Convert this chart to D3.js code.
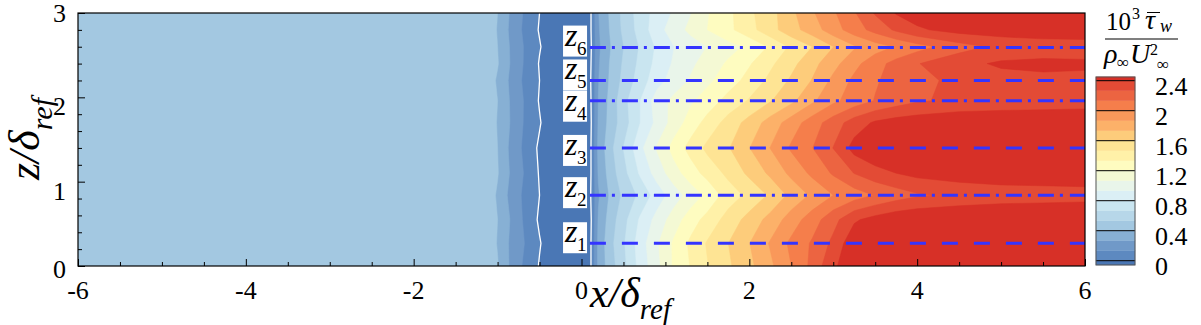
<!DOCTYPE html>
<html><head><meta charset="utf-8">
<script src="https://cdn.jsdelivr.net/npm/d3@7"></script>
<style>body{margin:0;background:#fff}svg{display:block}</style>
</head><body><svg id="c" width="1201" height="325"></svg>
<script>
// ---------- data ----------
const xNodes = [-6, -1.1, -1.0, -0.9, -0.75, -0.6, -0.5, -0.4, 0.0, 0.11,
  0.2, 0.35, 0.5, 0.7, 0.9, 1.1, 1.3, 1.5, 1.75, 2.0, 2.25, 2.5, 2.75, 3.0, 3.25, 3.5, 3.75, 4.0, 4.5, 5.0, 5.5, 6.0];
const zNodes = [0, 0.27, 0.55, 0.84, 1.1, 1.4, 1.7, 1.96, 2.2, 2.4, 2.6, 2.8, 3.0];
// separation region values (x = -6 ... 0.11), one row per zNode
const tauUpstream = [
  [0.47,0.47,0.41,0.30,0.16,0.06,-0.01,-0.05,-0.05,-0.01],
  [0.47,0.47,0.39,0.29,0.18,0.08,0.01,-0.05,-0.05,-0.01],
  [0.47,0.47,0.40,0.31,0.17,0.05,-0.02,-0.05,-0.05,-0.02],
  [0.47,0.46,0.38,0.28,0.15,0.07,0.00,-0.05,-0.05,0.00],
  [0.47,0.47,0.41,0.30,0.18,0.06,-0.01,-0.05,-0.05,-0.01],
  [0.47,0.47,0.40,0.29,0.16,0.04,-0.02,-0.05,-0.05,-0.01],
  [0.47,0.47,0.39,0.31,0.17,0.07,0.01,-0.05,-0.05,-0.02],
  [0.47,0.47,0.40,0.30,0.18,0.06,-0.01,-0.05,-0.05,-0.01],
  [0.47,0.46,0.38,0.29,0.16,0.05,0.00,-0.05,-0.05,0.00],
  [0.47,0.47,0.41,0.31,0.17,0.07,-0.01,-0.05,-0.05,-0.01],
  [0.47,0.47,0.40,0.30,0.18,0.06,0.01,-0.05,-0.05,-0.02],
  [0.47,0.47,0.39,0.29,0.16,0.05,-0.01,-0.05,-0.05,-0.01],
  [0.47,0.47,0.40,0.30,0.17,0.06,0.00,-0.05,-0.05,-0.01]
];
// recovery region values (x = 0.2 ... 6), one row per zNode
const tauRecovery = [
  [0.30,0.48,0.63,0.85,1.03,1.22,1.34,1.46,1.58,1.70,1.84,2.00,2.17,2.38,2.48,2.54,2.56,2.56,2.56,2.56,2.56,2.56],
  [0.30,0.50,0.65,0.87,1.05,1.22,1.36,1.48,1.60,1.73,1.88,2.03,2.15,2.30,2.50,2.55,2.56,2.56,2.56,2.56,2.56,2.56],
  [0.28,0.47,0.62,0.82,0.98,1.13,1.27,1.38,1.52,1.65,1.78,1.93,2.07,2.22,2.38,2.45,2.50,2.52,2.53,2.53,2.53,2.53],
  [0.25,0.43,0.56,0.70,0.86,1.00,1.12,1.23,1.40,1.50,1.62,1.77,1.89,2.00,2.07,2.14,2.20,2.25,2.30,2.33,2.34,2.35],
  [0.28,0.47,0.62,0.82,0.99,1.14,1.27,1.38,1.50,1.63,1.76,1.90,2.03,2.15,2.27,2.35,2.40,2.44,2.47,2.48,2.48,2.48],
  [0.30,0.50,0.67,0.90,1.08,1.25,1.38,1.50,1.59,1.73,1.87,2.02,2.13,2.27,2.45,2.52,2.55,2.56,2.56,2.56,2.56,2.56],
  [0.28,0.46,0.60,0.80,0.97,1.12,1.26,1.38,1.52,1.65,1.79,1.93,2.07,2.20,2.33,2.42,2.46,2.48,2.50,2.50,2.50,2.50],
  [0.27,0.45,0.62,0.80,1.00,1.10,1.18,1.26,1.38,1.48,1.59,1.70,1.84,1.97,2.06,2.14,2.20,2.25,2.30,2.32,2.33,2.34],
  [0.26,0.43,0.57,0.73,0.88,0.99,1.08,1.17,1.27,1.38,1.50,1.62,1.74,1.90,2.03,2.12,2.18,2.23,2.30,2.35,2.37,2.37],
  [0.25,0.42,0.55,0.70,0.84,0.95,1.04,1.12,1.22,1.32,1.44,1.56,1.69,1.82,1.96,2.08,2.18,2.26,2.36,2.42,2.43,2.42],
  [0.24,0.40,0.53,0.68,0.82,0.93,1.00,1.07,1.15,1.23,1.35,1.49,1.60,1.73,1.85,1.94,2.01,2.08,2.21,2.30,2.33,2.34],
  [0.25,0.42,0.56,0.72,0.88,1.00,1.10,1.20,1.30,1.42,1.55,1.68,1.80,1.94,2.07,2.18,2.29,2.38,2.45,2.47,2.48,2.48],
  [0.26,0.43,0.57,0.73,0.85,0.95,1.06,1.19,1.30,1.44,1.55,1.70,1.85,1.98,2.12,2.28,2.41,2.46,2.50,2.52,2.52,2.52]
];
const levels = [0, 0.1333, 0.2667, 0.4, 0.5333, 0.6667, 0.8, 0.9333, 1.0667, 1.2, 1.3333, 1.4667, 1.6, 1.7333, 1.8667, 2.0, 2.1333, 2.2667, 2.4];
const colorbarTicks = [0, 0.4, 0.8, 1.2, 1.6, 2, 2.4];
const xTicks = [-6, -4, -2, 0, 2, 4, 6];
const xMinorTicks = [-5.5,-5,-4.5,-3.5,-3,-2.5,-1.5,-1,-0.5,0.5,1,1.5,2.5,3,3.5,4.5,5,5.5];
const zTicks = [0, 1, 2, 3];
const zMinorTicks = [0.2,0.4,0.6,0.8,1.2,1.4,1.6,1.8,2.2,2.4,2.6,2.8];
const probeZ = [0.27, 0.84, 1.4, 1.96, 2.2, 2.59];
const probeNames = ["1","2","3","4","5","6"];
const probeXStart = 0.1;

// ---------- style ----------
const FF = "Liberation Serif";
const bandColors = ["#4a77b5","#5d89c0","#7099c8","#87b0d4","#a3c8e1","#b7d7e9","#c9e5f0","#dbeff5",
  "#e9f5ea","#f4f9d4","#fefcc0","#fff1a8","#fee494","#fdcc7b","#fcb169","#f9985a","#f57e4b","#ec6441","#e34b35","#d73027"];
const L = 78, R = 1085, T = 13, B = 266;
const svg = d3.select("#c");
const xScale = d3.scaleLinear([-6, 6], [L, R]);
const zScale = d3.scaleLinear([0, 3], [B, T]);
function txt(sel, x, y, size, italic, s) {
  return sel.append("text").attr("x", x).attr("y", y).attr("font-family", FF).attr("font-size", size)
    .attr("font-style", italic ? "italic" : "normal").attr("fill", "#000").text(s);
}

// ---------- contour field ----------
const nx = xNodes.length, nz = zNodes.length;
const values = [];
tauUpstream.forEach((row, j) => { values.push(...row, ...tauRecovery[j]); });
const thresholds = [-10, ...levels];
const contours = d3.contours().size([nx, nz]).thresholds(thresholds)(values);
function nodeMap(c, nodes) {
  let s = c - 0.5;
  s = Math.max(0, Math.min(nodes.length - 1, s));
  const i = Math.min(nodes.length - 2, Math.floor(s));
  return nodes[i] + (s - i) * (nodes[i + 1] - nodes[i]);
}
const proj = d3.geoTransform({ point(x, y) { this.stream.point(xScale(nodeMap(x, xNodes)), zScale(nodeMap(y, zNodes))); } });
const gpath = d3.geoPath(proj);
svg.append("clipPath").attr("id", "pc").append("rect").attr("x", L).attr("y", T).attr("width", R - L).attr("height", B - T);
const field = svg.append("g").attr("clip-path", "url(#pc)");
field.selectAll("path.band").data(contours).join("path").attr("class", "band")
  .attr("d", gpath).attr("fill", (d, i) => bandColors[i]).attr("stroke", (d, i) => bandColors[i]).attr("stroke-width", 0.5);

// zero-shear line (white)
let zd = "";
contours[1].coordinates.forEach(poly => poly.forEach(ring => {
  const pts = ring.map(([x, y]) => [nodeMap(x, xNodes), nodeMap(y, zNodes)]);
  let pen = false;
  for (let k = 1; k < pts.length; k++) {
    const a = pts[k - 1], b = pts[k], e = 1e-9;
    const onB = (Math.abs(a[1] - b[1]) < e && (a[1] <= zNodes[0] + e || a[1] >= zNodes[nz - 1] - e)) ||
                (Math.abs(a[0] - b[0]) < e && (a[0] <= xNodes[0] + e || a[0] >= xNodes[nx - 1] - e));
    if (onB) { pen = false; continue; }
    if (!pen) { zd += `M${xScale(a[0])},${zScale(a[1])}`; pen = true; }
    zd += `L${xScale(b[0])},${zScale(b[1])}`;
  }
}));
field.append("path").attr("d", zd).attr("fill", "none").attr("stroke", "#fff").attr("stroke-width", 1.3);

// probe lines
field.selectAll("line.probe").data(probeZ).join("line").attr("class", "probe")
  .attr("x1", xScale(probeXStart)).attr("x2", xScale(6)).attr("y1", d => zScale(d)).attr("y2", d => zScale(d))
  .attr("stroke", "#3434ff").attr("stroke-width", 3)
  .attr("stroke-dasharray", (d, i) => i % 2 === 0 ? "16,16" : "16,6,3,7");

// probe labels
const labelDy = [21, 18, 13, 10, 21, 22];
const lg = svg.append("g");
probeZ.forEach((z, i) => {
  const top = zScale(z) - labelDy[i];
  const g = lg.append("g").attr("transform", `translate(${xScale(-0.22)},${top})`);
  g.append("rect").attr("width", 24).attr("height", 31).attr("fill", "#fff");
  txt(g, 2, 20, 32, true, "z");
  txt(g, 14, 29, 19, false, probeNames[i]);
});

// ---------- axes ----------
const ax = svg.append("g");
ax.append("g").attr("transform", `translate(0,${B})`)
  .call(d3.axisBottom(xScale).tickValues(xMinorTicks).tickSize(-4).tickFormat(""))
  .call(g => g.select(".domain").remove());
ax.append("g").attr("transform", `translate(0,${B})`)
  .call(d3.axisBottom(xScale).tickValues(xTicks).tickSize(-7).tickFormat(""))
  .call(g => g.select(".domain").remove());
ax.append("g").attr("transform", `translate(${L},0)`)
  .call(d3.axisLeft(zScale).tickValues(zMinorTicks).tickSize(-4).tickFormat(""))
  .call(g => g.select(".domain").remove());
ax.append("g").attr("transform", `translate(${L},0)`)
  .call(d3.axisLeft(zScale).tickValues(zTicks).tickSize(-7).tickFormat(""))
  .call(g => g.select(".domain").remove());
ax.selectAll(".tick line").attr("stroke", "#000");
xTicks.forEach(d => txt(ax, xScale(d), B + 33, 26, false, d < 0 ? "-" + Math.abs(d) : String(d)).attr("text-anchor", "middle"));
const zLabDy = {0: 12, 1: 18, 2: 18, 3: 9};
zTicks.forEach(d => txt(ax, L - 12, zScale(d) + zLabDy[d], 26, false, String(d)).attr("text-anchor", "end"));
svg.append("rect").attr("x", L).attr("y", T).attr("width", R - L).attr("height", B - T)
  .attr("fill", "none").attr("stroke", "#000").attr("stroke-width", 1.2);

// axis titles
const xt = txt(svg, 590, 307, 42, true, "x/δ");
xt.append("tspan").attr("dy", 12).attr("font-size", 29).text("ref");
const yt = txt(svg, 0, 0, 44, true, "z/δ").attr("transform", "translate(39,180) rotate(-90)");
yt.append("tspan").attr("dy", 13).attr("font-size", 30).text("ref");

// ---------- colorbar ----------
const cbL = 1096, cbW = 39;
const cb = d3.scaleLinear([0, 2.4], [260.7, 80.7]);
const cbEdges = [-0.057, ...levels, 2.45];
const cg = svg.append("g");
cg.selectAll("rect.cb").data(bandColors).join("rect").attr("class", "cb")
  .attr("x", cbL).attr("width", cbW).attr("y", (d, i) => cb(cbEdges[i + 1])).attr("height", (d, i) => cb(cbEdges[i]) - cb(cbEdges[i + 1]))
  .attr("fill", d => d).attr("stroke", d => d).attr("stroke-width", 0.4);
cg.selectAll("line.cbt").data(colorbarTicks).join("line").attr("class", "cbt")
  .attr("x1", cbL).attr("x2", cbL + cbW).attr("y1", d => cb(d)).attr("y2", d => cb(d)).attr("stroke", "#000").attr("stroke-width", 1);
cg.append("rect").attr("x", cbL).attr("y", cb(2.45)).attr("width", cbW).attr("height", cb(-0.057) - cb(2.45))
  .attr("fill", "none").attr("stroke", "#555").attr("stroke-width", 1);
colorbarTicks.forEach(d => txt(cg, 1155, cb(d) + 14, 26, false, String(d)));

// colorbar title
const ct = svg.append("g");
txt(ct, 1106, 30, 25, false, "10");
txt(ct, 1132, 19, 16, false, "3");
txt(ct, 1145, 29, 28, true, "τ");
ct.append("line").attr("x1", 1147).attr("x2", 1160).attr("y1", 12.5).attr("y2", 12.5).attr("stroke", "#000").attr("stroke-width", 1);
txt(ct, 1160, 32, 18, true, "w");
ct.append("line").attr("x1", 1105).attr("x2", 1178).attr("y1", 39).attr("y2", 39).attr("stroke", "#000").attr("stroke-width", 1.2);
txt(ct, 1104, 63, 28, true, "ρ");
txt(ct, 1117, 68, 17, false, "∞");
txt(ct, 1130, 63, 28, true, "U");
txt(ct, 1150, 55, 16, false, "2");
txt(ct, 1157, 70, 17, false, "∞");
</script></body></html>
